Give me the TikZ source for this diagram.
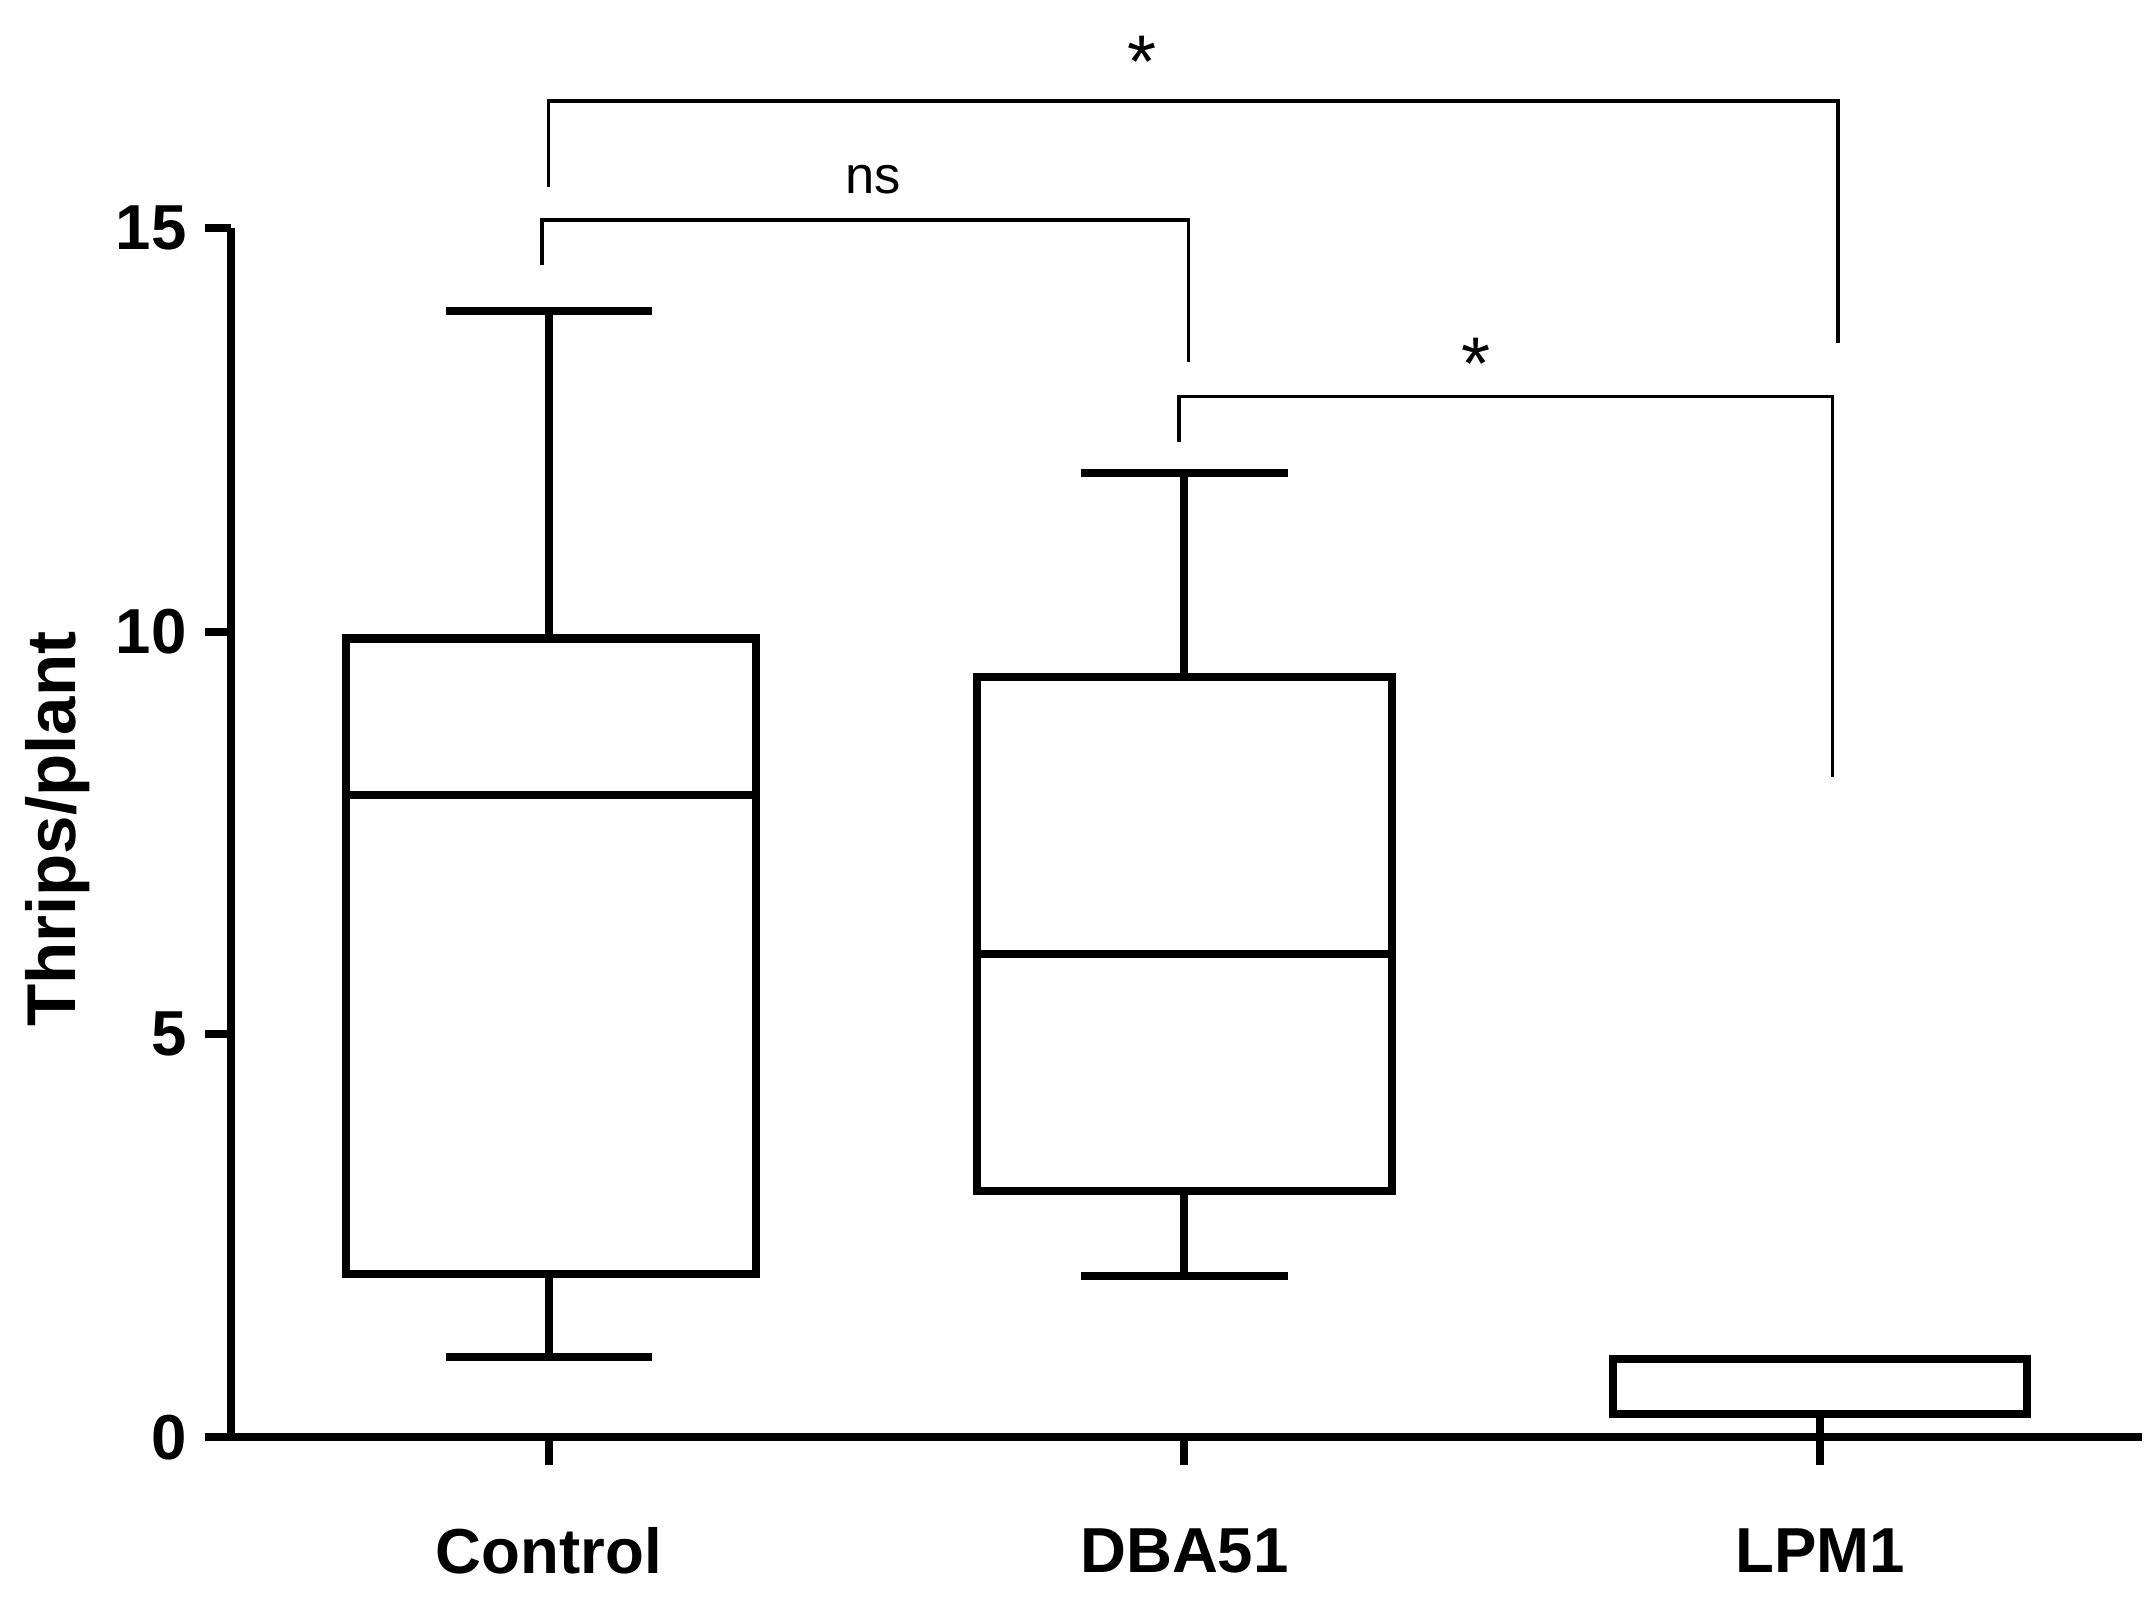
\documentclass[tikz,border=0pt]{standalone}
\usepackage{fontspec}
\setmainfont{Liberation Sans}
\begin{document}
\begin{tikzpicture}[x=0.5pt,y=-0.5pt,
  thick line/.style={line width=2.9pt},
  br/.style={line width=1.3pt},
  tick/.style={font=\bfseries\fontsize{23}{26}\selectfont},
  lab/.style={font=\fontsize{19}{22}\selectfont},
  star/.style={font=\fontsize{27}{30}\selectfont}]
\useasboundingbox (0,0) rectangle (1560,1159);
% axes
\draw[thick line] (167,165) -- (167,1040) -- (1550,1040);
\foreach \v/\y in {0/1040,5/748,10/457,15/165}{
  \draw[thick line] (148,\y) -- (167,\y);
  \node[tick,anchor=east] (yt\v) at (142,\y) {\v};
}
\foreach \x/\n in {397/Control,857/DBA51,1317/LPM1}{
  \draw[thick line] (\x,1040) -- (\x,1060);
  \node[tick] (xl\n) at (\x,1122) {\n};
}
\node[tick,rotate=90,font=\bfseries\fontsize{25}{28}\selectfont] (ylab) at (42,600) {Thrips/plant};
% Control
\draw[thick line] (250,462) rectangle (547,922);
\draw[thick line] (250,575) -- (547,575);
\draw[thick line] (397,462) -- (397,225) (323,225) -- (472,225);
\draw[thick line] (397,922) -- (397,982) (323,982) -- (472,982);
% DBA51
\draw[thick line] (707,490) rectangle (1007,862);
\draw[thick line] (707,690) -- (1007,690);
\draw[thick line] (857,490) -- (857,342) (782,342) -- (932,342);
\draw[thick line] (857,862) -- (857,923) (782,923) -- (932,923);
% LPM1
\draw[thick line] (1167,983) rectangle (1467,1023);
\draw[thick line] (1317,1023) -- (1317,1040);
% brackets
\draw[br] (397,135) -- (397,73) -- (1330,73) -- (1330,248);
\node[star] (s1) at (826,45) {*};
\draw[br] (392,192) -- (392,159) -- (860,159) -- (860,262);
\node[lab] (ns) at (632,130) {ns};
\draw[br] (853,320) -- (853,287) -- (1326,287) -- (1326,562);
\node[star] (s2) at (1068,263) {*};
\end{tikzpicture}
\end{document}
